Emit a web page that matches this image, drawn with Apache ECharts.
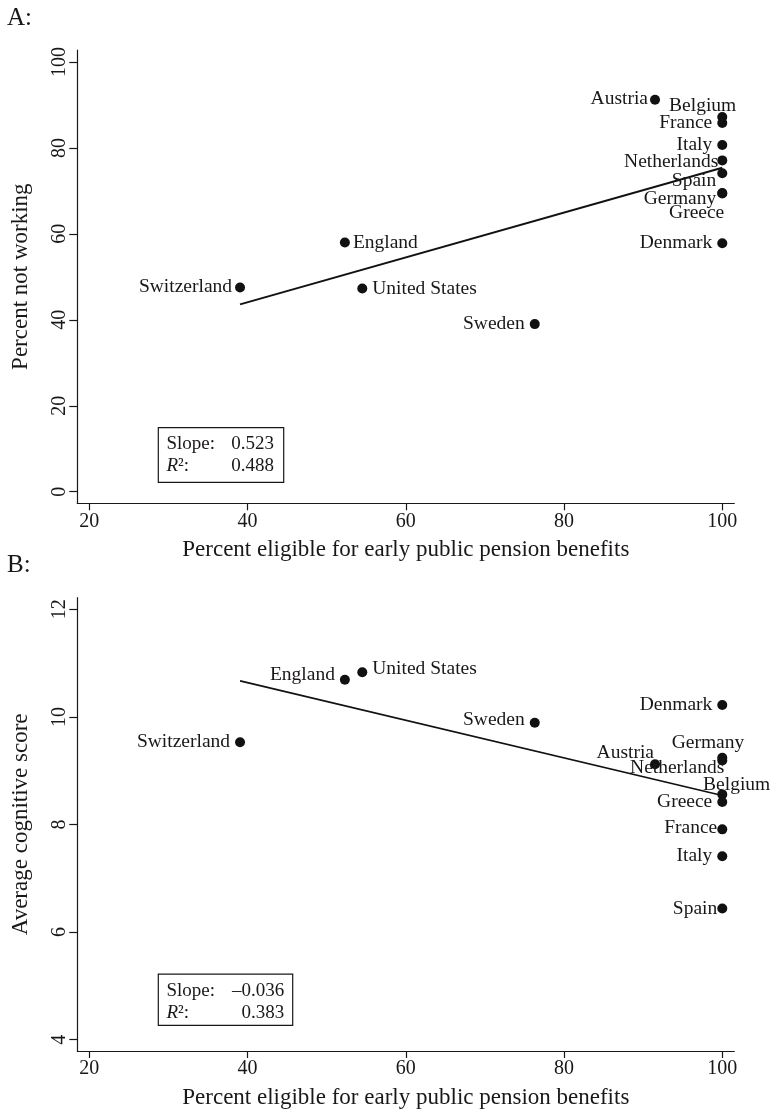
<!DOCTYPE html>
<html><head><meta charset="utf-8">
<script src="https://cdn.jsdelivr.net/npm/echarts@6/dist/echarts.min.js"></script>
<style>html,body{margin:0;padding:0;background:#fff}#c{width:771px;height:1109px}</style>
</head><body><div id="c"></div>
<script>
// ---- data ----
const countries  = ['Austria','Belgium','Denmark','England','France','Germany','Greece','Italy','Netherlands','Spain','Sweden','Switzerland','United States'];
const eligible   = [91.5, 100, 100, 52.3, 100, 100, 100, 100, 100, 100, 76.3, 39.05, 54.5];
const notWorking = [91.2, 87.2, 57.8, 58.0, 85.8, 69.5, 69.4, 80.7, 77.1, 74.1, 39.0, 47.5, 47.3];
const cognitive  = [9.12, 8.56, 10.22, 10.69, 7.91, 9.24, 8.42, 7.41, 9.19, 6.44, 9.89, 9.53, 10.83];
const fitX          = [39.05, 100];
const fitNotWorking = [43.6, 75.4];
const fitCognitive  = [10.67, 8.54];
const xTicks  = [20, 40, 60, 80, 100];
const yTicksA = [0, 20, 40, 60, 80, 100];
const yTicksB = [4, 6, 8, 10, 12];
const statsA = ['0.523', '0.488'];
const statsB = ['\u20130.036', '0.383'];

// ---- label placement (style only) ----
const labA = {
  'Austria':['left',3,-1], 'Belgium':['left',24,-11], 'Denmark':['left',0,0], 'England':['right',-2,0],
  'France':['left',0,0], 'Germany':['left',4,6], 'Greece':['left',12,19], 'Italy':['left',0,0],
  'Netherlands':['left',6,1], 'Spain':['left',4,8], 'Sweden':['left',0,0], 'Switzerland':['left',2,-1],
  'United States':['right',0,0]
};
const labB = {
  'Austria':['left',9,-11], 'Belgium':['left',58,-10], 'Denmark':['left',0,0], 'England':['left',0,-5],
  'France':['left',5,-1], 'Germany':['left',32,-15], 'Greece':['left',0,0], 'Italy':['left',0,0],
  'Netherlands':['left',12,7], 'Spain':['left',5,0], 'Sweden':['left',0,-3], 'Switzerland':['left',0,0],
  'United States':['right',0,-3]
};

const FF = '"Liberation Serif", "Times New Roman", serif';
const INK = '#1a1718';

function pts(yArr, lab) {
  return countries.map((c, i) => ({
    name: c,
    value: [eligible[i], yArr[i]],
    label: { position: lab[c][0], offset: [lab[c][1], lab[c][2]] }
  }));
}
function xAxis(gi) {
  return {
    type: 'value', gridIndex: gi, min: 18.48, max: 101.52,
    name: 'Percent eligible for early public pension benefits',
    nameLocation: 'middle', nameGap: 35,
    nameTextStyle: { fontFamily: FF, fontSize: 23, color: INK },
    axisLine: { show: true, onZero: false, lineStyle: { color: INK, width: 1.2 } },
    axisTick: { show: true, length: 7, inside: false, customValues: xTicks, lineStyle: { color: INK, width: 1.2 } },
    axisLabel: { customValues: xTicks, margin: 8, fontFamily: FF, fontSize: 20, color: INK },
    splitLine: { show: false }
  };
}
function yAxis(gi, min, max, ticks, name) {
  return {
    type: 'value', gridIndex: gi, min: min, max: max,
    name: name, nameLocation: 'middle', nameGap: 45,
    nameTextStyle: { fontFamily: FF, fontSize: 23, color: INK },
    axisLine: { show: true, onZero: false, lineStyle: { color: INK, width: 1.2 } },
    axisTick: { show: true, length: 8, customValues: ticks, lineStyle: { color: INK, width: 1.2 } },
    axisLabel: { customValues: ticks, rotate: 90, margin: 8, fontFamily: FF, fontSize: 20, color: INK },
    splitLine: { show: false }
  };
}
function scatter(gi, yArr, lab) {
  return {
    type: 'scatter', xAxisIndex: gi, yAxisIndex: gi, z: 3,
    symbolSize: 10, itemStyle: { color: '#111', opacity: 1 },
    label: { show: true, formatter: '{b}', distance: 5, fontFamily: FF, fontSize: 19.5, color: INK, opacity: 1 },
    emphasis: { disabled: true },
    data: pts(yArr, lab)
  };
}
function fit(gi, yArr, w) {
  return {
    type: 'line', xAxisIndex: gi, yAxisIndex: gi, z: 2, showSymbol: false, silent: true,
    lineStyle: { color: '#111', width: w, opacity: 1 },
    data: fitX.map((x, i) => [x, yArr[i]])
  };
}
function statBox(x0, y0, w, h, vals, ty1, ty2, xr) {
  const tf = { fontFamily: FF, fontSize: 19, fill: INK };
  return [
    { type: 'rect', shape: { x: x0, y: y0, width: w, height: h }, style: { fill: '#fff', stroke: INK, lineWidth: 1.2 }, z: 10 },
    { type: 'text', z: 11, style: Object.assign({ text: 'Slope:', x: 166.5, y: ty1, textVerticalAlign: 'middle' }, tf) },
    { type: 'text', z: 11, style: Object.assign({ text: vals[0], x: xr, y: ty1, textAlign: 'right', textVerticalAlign: 'middle' }, tf) },
    { type: 'text', z: 11, style: Object.assign({ text: '{i|R}\u00b2:', x: 166.5, y: ty2, textVerticalAlign: 'middle',
        rich: { i: { fontStyle: 'italic', fontFamily: FF, fontSize: 19, fill: INK } } }, tf) },
    { type: 'text', z: 11, style: Object.assign({ text: vals[1], x: xr, y: ty2, textAlign: 'right', textVerticalAlign: 'middle' }, tf) }
  ];
}

const chart = echarts.init(document.getElementById('c'), null, { renderer: 'canvas' });
chart.setOption({
  backgroundColor: '#fff',
  animation: false,
  textStyle: { fontFamily: FF },
  grid: [
    { left: 77.3, top: 50, width: 657, height: 453.3, containLabel: false, outerBoundsMode: 'none' },
    { left: 77.3, top: 597.7, width: 657, height: 453.3, containLabel: false, outerBoundsMode: 'none' }
  ],
  xAxis: [xAxis(0), xAxis(1)],
  yAxis: [
    yAxis(0, -2.70, 102.79, yTicksA, 'Percent not working'),
    yAxis(1, 3.79, 12.216, yTicksB, 'Average cognitive score')
  ],
  series: [
    fit(0, fitNotWorking, 2), scatter(0, notWorking, labA),
    fit(1, fitCognitive, 1.6), scatter(1, cognitive, labB)
  ],
  graphic: [
    { type: 'text', style: { text: 'A:', x: 7, y: 6, fontFamily: FF, fontSize: 25, fill: INK } },
    { type: 'text', style: { text: 'B:', x: 7, y: 553, fontFamily: FF, fontSize: 25, fill: INK } }
  ].concat(
    statBox(158.3, 427.7, 125.4, 54.6, statsA, 444.3, 466, 274),
    statBox(158.3, 974.2, 134.4, 51.1, statsB, 990.8, 1012.6, 284.3)
  )
});
</script></body></html>
